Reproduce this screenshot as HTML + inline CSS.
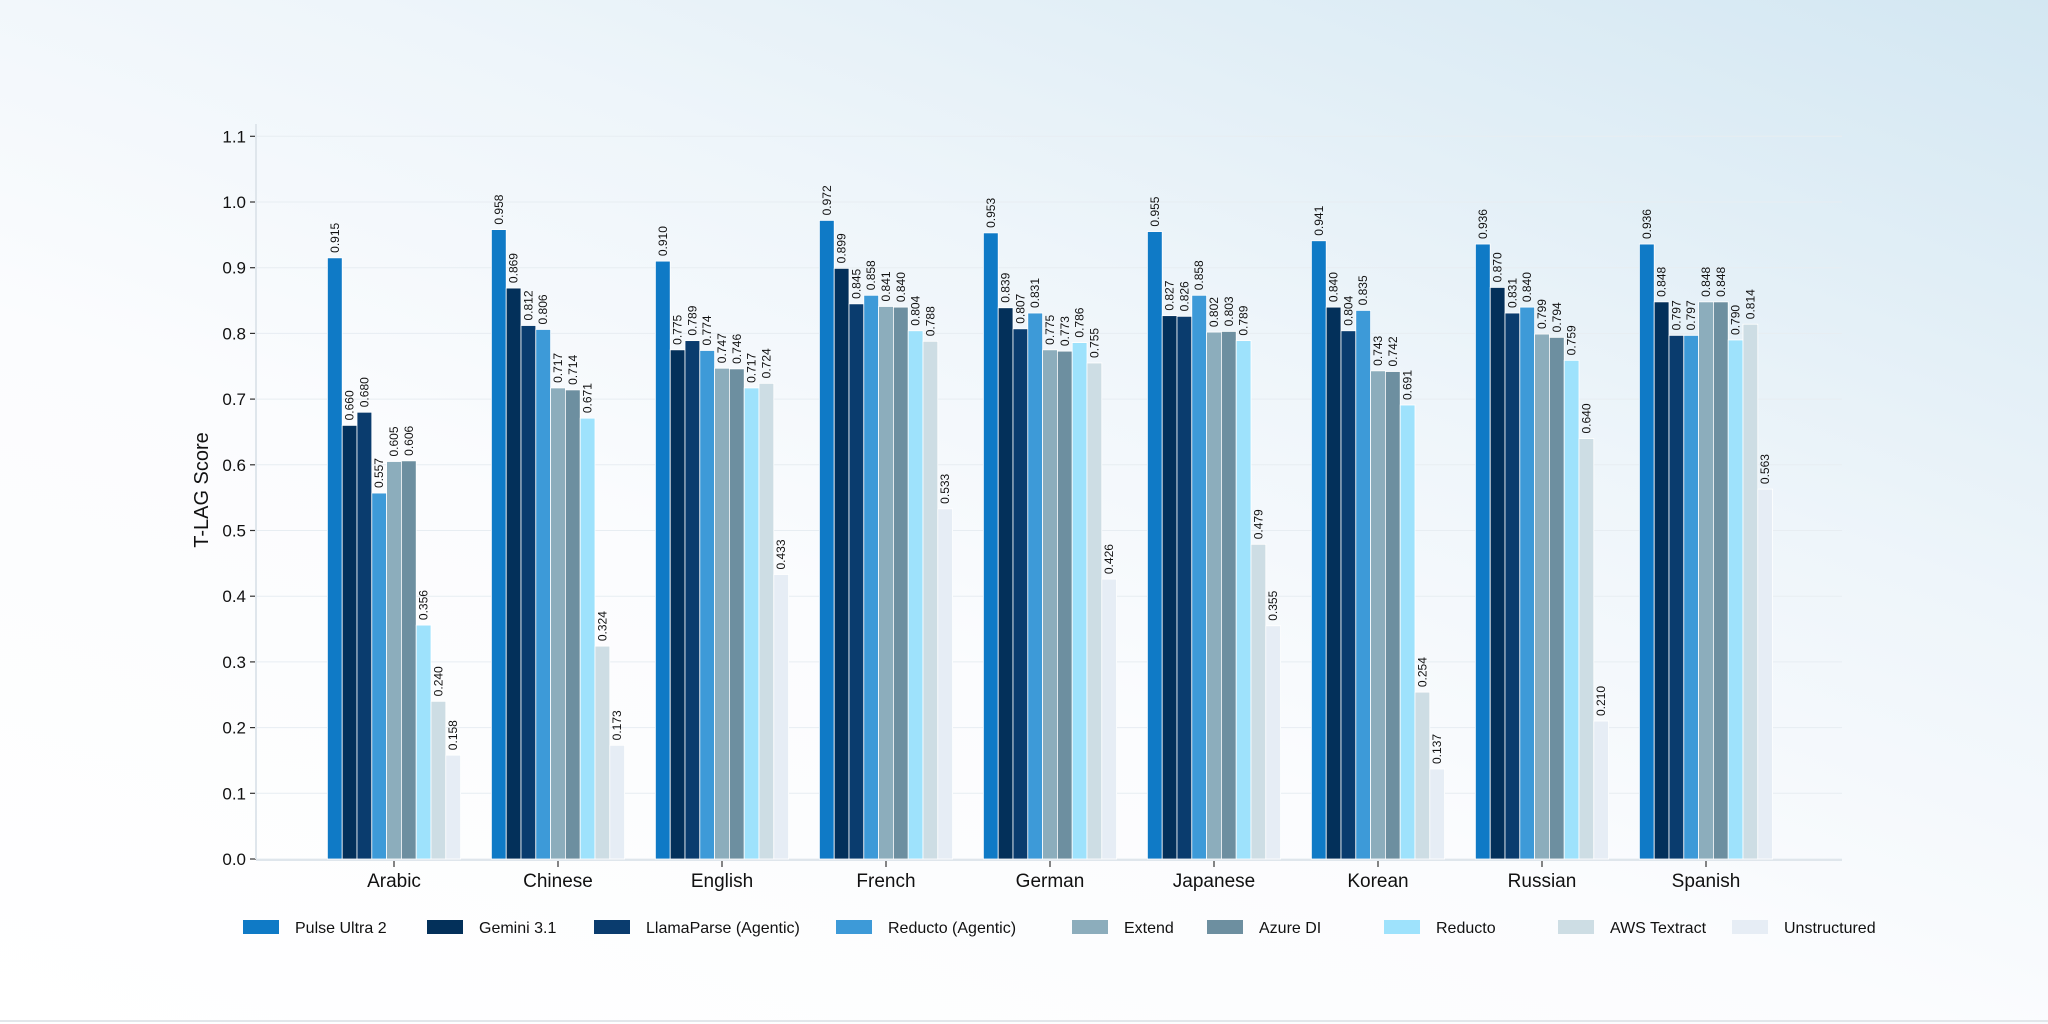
<!DOCTYPE html>
<html><head><meta charset="utf-8">
<style>
html,body{margin:0;padding:0;width:2048px;height:1024px;overflow:hidden}
body{background:linear-gradient(200deg,#d3e7f2 0%,#eef5fa 35%,#fbfcfe 60%,#ffffff 100%);font-family:"Liberation Sans",sans-serif}
svg{position:absolute;left:0;top:0}
</style></head>
<body>
<svg id="chart" width="2048" height="1024"></svg>
<script>
const categories=["Arabic","Chinese","English","French","German","Japanese","Korean","Russian","Spanish"];
const seriesNames=["Pulse Ultra 2","Gemini 3.1","LlamaParse (Agentic)","Reducto (Agentic)","Extend","Azure DI","Reducto","AWS Textract","Unstructured"];
const seriesColors=["#0f7ac6","#03305a","#0a3c6e","#3d9ad8","#8cadbc","#6d8fa0","#9ee2fc","#cddde4","#e6edf5"];
const pulseUltra2=[0.915,0.958,0.910,0.972,0.953,0.955,0.941,0.936,0.936];
const gemini31=[0.660,0.869,0.775,0.899,0.839,0.827,0.840,0.870,0.848];
const llamaParse=[0.680,0.812,0.789,0.845,0.807,0.826,0.804,0.831,0.797];
const reductoAgentic=[0.557,0.806,0.774,0.858,0.831,0.858,0.835,0.840,0.797];
const extend=[0.605,0.717,0.747,0.841,0.775,0.802,0.743,0.799,0.848];
const azureDI=[0.606,0.714,0.746,0.840,0.773,0.803,0.742,0.794,0.848];
const reducto=[0.356,0.671,0.717,0.804,0.786,0.789,0.691,0.759,0.790];
const awsTextract=[0.240,0.324,0.724,0.788,0.755,0.479,0.254,0.640,0.814];
const unstructured=[0.158,0.173,0.433,0.533,0.426,0.355,0.137,0.210,0.563];
const yTicks=["0.0","0.1","0.2","0.3","0.4","0.5","0.6","0.7","0.8","0.9","1.0","1.1"];
const series=[pulseUltra2,gemini31,llamaParse,reductoAgentic,extend,azureDI,reducto,awsTextract,unstructured];

const NS="http://www.w3.org/2000/svg";
const svg=document.getElementById('chart');
function mk(tag,attrs,parent){const e=document.createElementNS(NS,tag);for(const k in attrs)e.setAttribute(k,attrs[k]);(parent||svg).appendChild(e);return e;}
const x0=256,x1=1842,yBase=859,pxPer=657;
const y=v=>yBase-v*pxPer;
const cx=i=>394+164*i;
const barW=14.8;

yTicks.forEach(t=>{
  const v=parseFloat(t),yy=y(v);
  const g=mk('line',{x1:x0,x2:x1,y1:yy,y2:yy,stroke:'#e7edf2','stroke-width':1});
  
  
  const tk=mk('line',{x1:x0-6,x2:x0,y1:yy,y2:yy,stroke:'#333','stroke-width':1.2});
  
  
  const tx=mk('text',{x:x0-10,y:yy+6,'text-anchor':'end','font-size':17,fill:'#111'});
  tx.textContent=t;
  
  
});
const ax=mk('line',{x1:x0,x2:x0,y1:124,y2:yBase,stroke:'#dfe6ec','stroke-width':2});


const bx=mk('line',{x1:x0,x2:x1,y1:yBase+1,y2:yBase+1,stroke:'#dfe6ec','stroke-width':2});



const yt=mk('text',{x:0,y:0,transform:'translate(208,490) rotate(-90)','text-anchor':'middle','font-size':20,fill:'#111'});
yt.textContent='T-LAG Score';



categories.forEach((c,i)=>{
  const c0=cx(i);
  const tk=mk('line',{x1:c0,x2:c0,y1:yBase+2,y2:yBase+8,stroke:'#333','stroke-width':1.2});
  
  
  const t=mk('text',{x:c0,y:yBase+28,'text-anchor':'middle','font-size':19,fill:'#111'});
  t.textContent=c;
  
  
  series.forEach((s,j)=>{
    const v=s[i],bxp=c0-barW*4.5+barW*j;
    const r=mk('rect',{x:bxp,y:y(v),width:barW,height:yBase-y(v),fill:seriesColors[j],stroke:'#ffffff','stroke-width':0.8});
    
    
    const lx=bxp+barW/2+4,ly=y(v)-5;
    const l=mk('text',{x:0,y:0,transform:`translate(${lx},${ly}) rotate(-90)`,'font-size':12,fill:'#111'});
    l.textContent=v.toFixed(3);
    
    
  });
});

const legX=[243,427,594,836,1072,1207,1384,1558,1732];
seriesNames.forEach((n,j)=>{
  const g=mk('g',{});
  
  
  const r=mk('rect',{x:legX[j],y:920,width:36,height:14,fill:seriesColors[j]},g);
  
  
  const t=mk('text',{x:legX[j]+52,y:933,'font-size':16,fill:'#111'},g);
  t.textContent=n;
  
  
});
const bl=mk('line',{x1:0,x2:2048,y1:1021,y2:1021,stroke:'#e2e6ea','stroke-width':2});


</script>
</body></html>
